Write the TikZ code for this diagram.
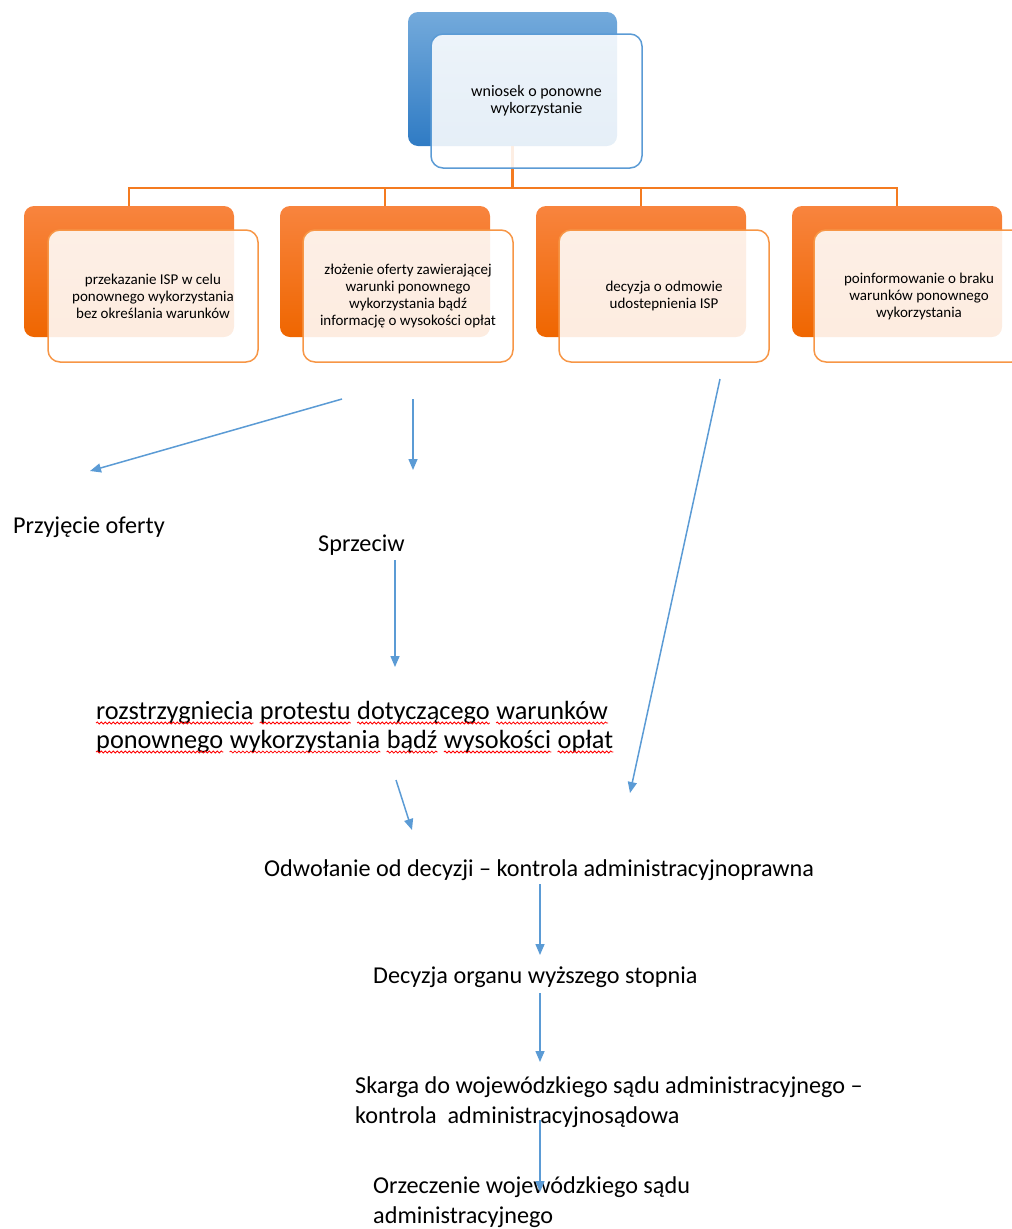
\documentclass[tikz,border=0pt]{standalone}
\usepackage{fontspec}
\setmainfont{Carlito}
\usetikzlibrary{arrows.meta,decorations.pathmorphing}
\definecolor{wblue}{HTML}{5B9BD5}
\definecolor{wbluedark}{HTML}{2F7BC4}
\definecolor{worange}{HTML}{F79646}
\definecolor{worangetop}{HTML}{F8843E}
\definecolor{worangedark}{HTML}{EF6600}
\definecolor{wline}{HTML}{F47B20}
\definecolor{warrow}{HTML}{5B9BD5}
\begin{document}
\begin{tikzpicture}[x=1pt, y=-1pt,
  backblue/.style={rectangle, rounded corners=10pt, minimum width=209pt, minimum height=134pt, top color=wblue!85!white, bottom color=wbluedark},
  frontblue/.style={rectangle, rounded corners=12pt, minimum width=211pt, minimum height=134pt, draw=wblue, line width=1.5pt, fill=white, fill opacity=0.88, text opacity=1, align=center, font=\fontsize{16}{17}\selectfont},
  backorange/.style={rectangle, rounded corners=10pt, minimum width=210pt, minimum height=131pt, top color=worangetop, bottom color=worangedark},
  frontorange/.style={rectangle, rounded corners=12pt, minimum width=210pt, minimum height=132pt, draw=worange, line width=1.5pt, fill=white, fill opacity=0.88, text opacity=1, align=center, font=\fontsize{15}{17}\selectfont},
  conn/.style={wline, line width=2.4pt},
  flow/.style={warrow, line width=1.5pt, -{Triangle[length=11pt,width=9pt]}},
  label/.style={anchor=west, align=left, font=\fontsize{24.2}{30.5}\selectfont},
  word/.style={anchor=base west, font=\fontsize{26.3}{29}\selectfont},
  spell/.style={red, line width=0.8pt, decorate, decoration={snake, amplitude=1pt, segment length=4pt}}]
\tikzstyle{every node}+=[inner sep=0pt]
\useasboundingbox (0,0) rectangle (1012,1229);
% back boxes
\node[backblue] (wnb) at (512.5,79) {};
\node[backorange] (o1b) at (129,271.5) {};
\node[backorange] (o2b) at (385,271.5) {};
\node[backorange] (o3b) at (641,271.5) {};
\node[backorange] (o4b) at (897,271.5) {};
% connectors
\coordinate (bus) at (512.5,188);
\draw[conn] (wnb.south) -- (bus);
\draw[conn] (o1b.north) |- (bus);
\draw[conn] (o2b.north) |- (bus);
\draw[conn] (o3b.north) |- (bus);
\draw[conn] (o4b.north) |- (bus);
% front boxes
\node[frontblue] (wn) at (536.5,101) {wniosek o ponowne\\wykorzystanie};
\node[frontorange] (o1) at (153,296) {przekazanie ISP w celu\\ponownego wykorzystania\\bez określania warunków};
\node[frontorange] (o2) at (408,296) {złożenie oferty zawierającej\\warunki ponownego\\wykorzystania bądź\\informację o wysokości opłat};
\node[frontorange] (o3) at (664,296) {decyzja o odmowie\\udostepnienia ISP};
\node[frontorange] (o4) at (919,296) {poinformowanie o braku\\warunków ponownego\\wykorzystania};
% texts
\node[label] (przyj) at (13,527) {Przyjęcie oferty};
\node[label] (sprz) at (318,545) {Sprzeciw};
\node[word] (p1) at (96,719) {rozstrzygniecia};
\node[word] (p2) at ([xshift=6.2pt]p1.base east) {protestu};
\node[word] (p3) at ([xshift=6.2pt]p2.base east) {dotyczącego};
\node[word] (p4) at ([xshift=6.2pt]p3.base east) {warunków};
\node[word] (p5) at (96,748) {ponownego};
\node[word] (p6) at ([xshift=6.2pt]p5.base east) {wykorzystania};
\node[word] (p7) at ([xshift=6.2pt]p6.base east) {bądź};
\node[word] (p8) at ([xshift=6.2pt]p7.base east) {wysokości};
\node[word] (p9) at ([xshift=6.2pt]p8.base east) {opłat};
\node[label] (odw) at (264,870) {Odwołanie od decyzji – kontrola administracyjnoprawna};
\node[label] (dec) at (373,977) {Decyzja organu wyższego stopnia};
\node[label] (skarga) at (355,1102) {Skarga do wojewódzkiego sądu administracyjnego –\\kontrola\ \ administracyjnosądowa};
\node[label] (orz) at (373,1202) {Orzeczenie wojewódzkiego sądu\\administracyjnego};
% spelling marks
\draw[spell] ([yshift=-4pt]p1.base west) -- ([yshift=-4pt]p1.base east);
\draw[spell] ([yshift=-4pt]p2.base west) -- ([yshift=-4pt]p2.base east);
\draw[spell] ([yshift=-4pt]p3.base west) -- ([yshift=-4pt]p3.base east);
\draw[spell] ([yshift=-4pt]p4.base west) -- ([yshift=-4pt]p4.base east);
\draw[spell] ([yshift=-4pt]p5.base west) -- ([yshift=-4pt]p5.base east);
\draw[spell] ([yshift=-4pt]p6.base west) -- ([yshift=-4pt]p6.base east);
\draw[spell] ([yshift=-4pt]p7.base west) -- ([yshift=-4pt]p7.base east);
\draw[spell] ([yshift=-4pt]p8.base west) -- ([yshift=-4pt]p8.base east);
\draw[spell] ([yshift=-4pt]p9.base west) -- ([yshift=-4pt]p9.base east);
% arrows
\coordinate (s1) at (342,399);
\coordinate (e1) at (90,471);
\coordinate (s2) at (413,399);
\coordinate (e2) at (413,470);
\coordinate (s3) at (395,560);
\coordinate (e3) at (395,667);
\coordinate (s4) at (396,780);
\coordinate (e4) at (412,830);
\coordinate (s5) at (720,379);
\coordinate (e5) at (630,793);
\coordinate (s6) at (540,884);
\coordinate (e6) at (540,955);
\coordinate (s7) at (540,993);
\coordinate (e7) at (540,1062);
\coordinate (s8) at (540,1120);
\coordinate (e8) at (540,1192);
\draw[flow] (s1) -- (e1);
\draw[flow] (s2) -- (e2);
\draw[flow] (s3) -- (e3);
\draw[flow] (s4) -- (e4);
\draw[flow] (s5) -- (e5);
\draw[flow] (s6) -- (e6);
\draw[flow] (s7) -- (e7);
\draw[flow] (s8) -- (e8);
\end{tikzpicture}
\end{document}
